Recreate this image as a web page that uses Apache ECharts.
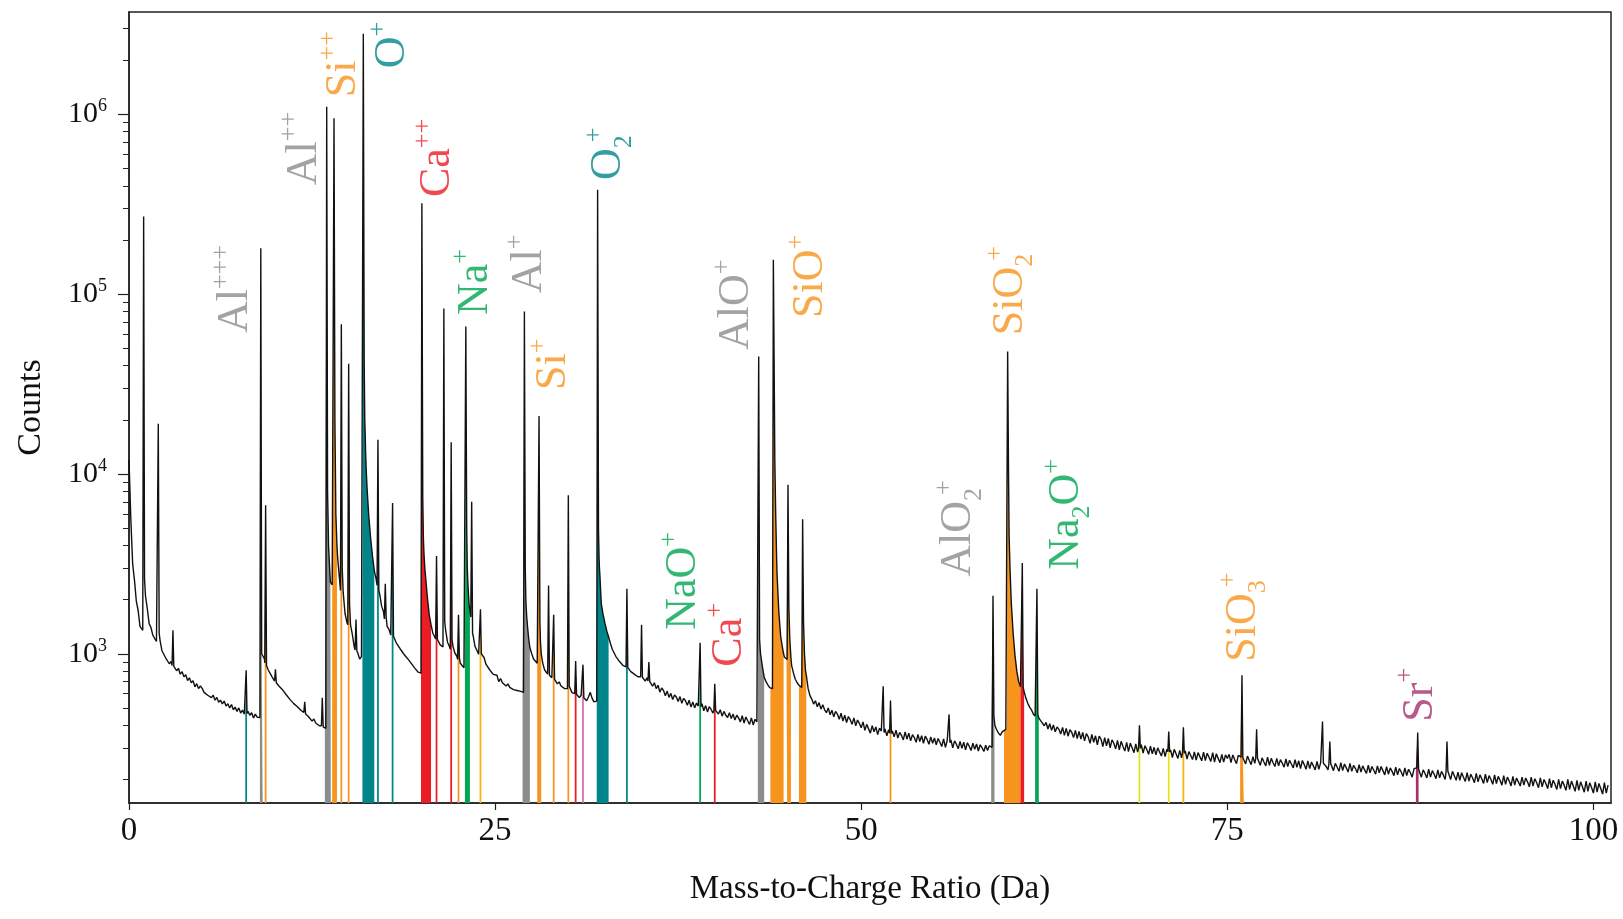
<!DOCTYPE html>
<html>
<head>
<meta charset="utf-8">
<title>Mass spectrum</title>
<script src="https://cdn.jsdelivr.net/npm/echarts@6/dist/echarts.min.js"></script>
<style>
  html, body { margin: 0; padding: 0; background: #fff; }
  #chart { width: 1623px; height: 919px; }
</style>
</head>
<body>
<div id="chart"></div>
<script>
// background counts, one value every 0.125 Da from 0 to 101 Da (40 values per 5 Da)
const BG_STEP = 0.125;
const bgCounts = [
  12000, 5600, 3150, 2560, 1960, 1740, 1420, 1400, 1300, 2100, 1780, 1470, 1400, 1270, 1260, 1170, 1150, 1180, 1040, 1050,
  950, 965, 880, 905, 860, 860, 805, 830, 770, 795, 745, 765, 710, 735, 690, 708, 655, 682, 640, 662,
  642, 610, 625, 588, 602, 570, 588, 552, 572, 538, 552, 526, 546, 512, 528, 500, 522, 488, 505, 478,
  500, 468, 486, 462, 470, 478, 455, 470, 440, 462, 444, 452, 440, 980, 935, 850, 815, 795, 748, 742,
  700, 705, 660, 675, 628, 636, 590, 598, 556, 565, 528, 540, 508, 515, 484, 492, 470, 470, 448, 452,
  422, 434, 412, 418, 398, 406, 395, 390, 390, 4000, 2500, 2420, 2400, 6000, 3400, 2600, 2300, 2200, 1680, 1500,
  1400, 1450, 1280, 1100, 1050, 1010, 935, 965, 950, 17000, 8500, 5800, 4400, 3500, 2900, 2600, 2400, 2130, 1840, 1720,
  1550, 1420, 1370, 1270, 1250, 1240, 1150, 1140, 1070, 1060, 1000, 1005, 945, 950, 890, 900, 835, 845, 790, 800,
  760, 3900, 2700, 2050, 1650, 1450, 1300, 1280, 1200, 1190, 1120, 1130, 1080, 1350, 1160, 1100, 1050, 1100, 1010, 975,
  920, 885, 875, 835, 830, 2650, 1800, 1600, 1260, 1100, 1075, 995, 980, 975, 950, 875, 862, 815, 812, 768,
  752, 760, 700, 728, 690, 700, 662, 680, 650, 664, 632, 648, 625, 632, 618, 612, 610, 1800, 1320, 1080,
  1000, 935, 922, 885, 880, 1080, 890, 815, 805, 770, 742, 735, 730, 722, 680, 698, 662, 672, 640, 655,
  640, 645, 608, 622, 598, 602, 570, 588, 572, 578, 548, 575, 610, 565, 540, 545, 545, 3000, 1900, 1650,
  1480, 1340, 1240, 1140, 1060, 1040, 965, 968, 905, 912, 858, 868, 845, 845, 798, 812, 770, 785, 745, 760,
  740, 752, 705, 735, 700, 712, 660, 690, 640, 668, 612, 645, 625, 585, 620, 572, 602, 556, 590, 575,
  542, 578, 530, 565, 548, 518, 552, 505, 540, 500, 532, 512, 510, 528, 482, 515, 475, 508, 490, 468,
  485, 492, 462, 488, 450, 478, 455, 442, 470, 436, 462, 428, 455, 440, 418, 452, 412, 445, 424, 405,
  440, 402, 432, 418, 420, 1000, 850, 740, 700, 672, 648, 642, 640, 9000, 2800, 1700, 1250, 1080, 960, 940,
  900, 1200, 860, 780, 722, 690, 668, 655, 640, 1000, 760, 640, 585, 560, 525, 548, 508, 535, 492, 520,
  488, 470, 500, 458, 485, 446, 478, 462, 432, 468, 422, 455, 415, 448, 430, 405, 440, 398, 428, 410,
  388, 418, 375, 405, 395, 362, 398, 368, 392, 355, 386, 372, 365, 382, 350, 378, 360, 372, 345, 376,
  340, 365, 352, 332, 368, 335, 362, 328, 355, 342, 322, 356, 325, 350, 318, 348, 334, 314, 345, 318,
  340, 312, 338, 322, 305, 336, 302, 330, 320, 332, 300, 328, 314, 296, 326, 298, 322, 292, 320, 306,
  290, 318, 294, 315, 288, 312, 300, 286, 310, 290, 308, 303, 300, 400, 378, 362, 352, 368, 375, 380,
  380, 3800, 1900, 1300, 980, 800, 700, 655, 640, 615, 565, 530, 505, 488, 462, 450, 445, 440, 425, 418,
  398, 415, 382, 408, 375, 402, 368, 392, 380, 358, 390, 352, 385, 348, 378, 366, 342, 375, 338, 370,
  335, 365, 328, 360, 345, 318, 356, 322, 350, 312, 348, 335, 305, 342, 308, 338, 300, 332, 318, 296,
  330, 292, 326, 305, 288, 322, 286, 318, 300, 282, 315, 284, 300, 312, 280, 308, 294, 276, 306, 278,
  302, 274, 300, 284, 270, 298, 268, 295, 285, 292, 265, 294, 278, 262, 290, 264, 280, 288, 260, 286,
  272, 258, 285, 256, 282, 268, 254, 284, 255, 280, 266, 252, 282, 250, 278, 262, 248, 276, 250, 274,
  262, 276, 248, 274, 258, 245, 272, 268, 262, 262, 244, 270, 255, 242, 268, 246, 260, 266, 240, 264,
  250, 238, 266, 240, 262, 248, 236, 262, 238, 258, 246, 234, 260, 236, 256, 244, 232, 258, 234, 254,
  230, 255, 242, 228, 254, 230, 250, 238, 226, 252, 228, 248, 240, 250, 236, 226, 240, 248, 224, 246,
  234, 222, 248, 224, 244, 232, 220, 246, 222, 240, 230, 218, 242, 220, 238, 226, 216, 240, 218, 236,
  225, 214, 238, 218, 236, 224, 212, 236, 214, 232, 222, 210, 234, 212, 230, 220, 208, 232, 210, 228,
  218, 206, 230, 232, 228, 228, 206, 226, 216, 204, 228, 206, 224, 214, 202, 226, 204, 222, 212, 200,
  222, 220, 200, 222, 210, 198, 220, 198, 218, 206, 195, 218, 196, 214, 204, 192, 216, 194, 212, 202,
  190, 214, 192, 210, 200, 188, 212, 190, 208, 198, 186, 210, 188, 206, 196, 184, 208, 186, 204, 194,
  184, 206, 186, 204, 194, 182, 206, 184, 202, 192, 180, 204, 182, 200, 190, 178, 202, 180, 198, 188,
  176, 200, 178, 196, 186, 174, 200, 176, 196, 184, 172, 198, 174, 194, 182, 170, 196, 172, 192, 180,
  168, 194, 170, 190, 178, 166, 192, 168, 186
];

// peaks: position, top, count just before and just after
const peakMass = [1, 2, 3, 8, 9, 9.33, 10, 12, 13.2, 13.5, 14, 14.5, 15, 15.5, 16, 17, 17.5, 18, 20, 21,
  21.5, 22, 22.5, 23, 23.4, 24, 27, 28, 28.65, 29, 30, 30.5, 31, 32, 34, 35, 35.5, 39, 40, 43,
  44, 45, 46, 51.5, 52, 56, 59, 60, 61, 62, 69, 71, 72, 76, 77, 81.5, 82, 88, 90];
const peakApex = [270000, 19000, 1350, 810, 180000, 6700, 820, 540, 570, 1100000, 950000, 68000, 41000, 1550, 2800000, 15500, 2450, 6900, 320000, 3500,
  83000, 15000, 1650, 66000, 7000, 1770, 80000, 21000, 2400, 1650, 7600, 910, 870, 380000, 2300, 1450, 900, 1150, 680, 45000,
  155000, 8700, 5600, 660, 550, 460, 2100, 48000, 3200, 2300, 400, 370, 390, 760, 380, 420, 325, 365, 325];
const peakLeft = [1350, 1180, 860, 468, 442, 890, 705, 472, 398, 385, 2400, 2250, 1450, 1050, 960, 2400, 1560, 1260, 780, 1210,
  1090, 1060, 930, 840, 1600, 985, 610, 880, 770, 730, 640, 600, 575, 545, 845, 745, 705, 512, 486, 420,
  640, 930, 650, 368, 362, 322, 302, 380, 640, 445, 300, 285, 281, 266, 262, 248, 246, 232, 222];
const peakRight = [2600, 1300, 850, 465, 1000, 860, 690, 462, 392, 8000, 20000, 3000, 1900, 1040, 42000, 2250, 1600, 1250, 7400, 1200,
  1500, 1200, 950, 5000, 1300, 1000, 3000, 1500, 760, 720, 660, 595, 570, 4900, 840, 740, 700, 508, 484, 1200,
  35000, 1800, 1500, 365, 360, 320, 450, 10000, 650, 460, 298, 284, 280, 264, 262, 246, 245, 228, 222];

// extra points on the decaying tails after the big peaks
const tailMass = [13.7, 13.78, 14.2, 16.1, 16.16, 16.2, 20.1, 20.16, 20.2, 23.1,
  23.16, 23.22, 23.28, 27.1, 27.16, 27.22, 27.3, 28.1, 28.15, 32.1,
  32.16, 32.2, 43.8, 44.1, 44.16, 44.22, 44.7, 44.9, 45.2, 46.2,
  59.1, 60.1, 60.16, 60.22];
const tailCounts = [3000, 2450, 4000, 20000, 13000, 10500, 4500, 3400, 3000, 3000,
  2300, 1900, 1750, 2000, 1600, 1400, 1200, 1150, 1000, 3400,
  2700, 2300, 645, 12000, 6000, 3500, 1000, 935, 950, 800,
  420, 4500, 3000, 2200];

// coloured (identified) ranges
const fillFrom = [7.94, 8.94, 9.27, 13.375, 13.875, 14.44, 14.94, 15.94, 16.94, 17.94,
  19.94, 20.94, 21.94, 22.44, 22.94, 23.94, 26.875, 27.875, 28.94, 29.94,
  30.44, 30.94, 31.94, 33.94, 38.94, 39.94, 42.94, 43.8, 44.9, 45.75,
  51.94, 58.875, 59.75, 60.875, 61.875, 68.94, 70.94, 71.94, 75.875, 87.875];
const fillTo = [8.06, 9.125, 9.39, 13.78, 14.2, 14.56, 15.06, 16.75, 17.06, 18.06,
  20.625, 21.06, 22.06, 22.56, 23.28, 24.06, 27.375, 28.15, 29.06, 30.06,
  30.56, 31.06, 32.75, 34.06, 39.06, 40.06, 43.375, 44.7, 45.2, 46.25,
  52.06, 59.1, 60.875, 61.125, 62.125, 69.06, 71.06, 72.06, 76.125, 88.06];
const fillKind = ['teal', 'gray', 'orange', 'gray', 'orange', 'orange', 'orange', 'teal', 'teal', 'teal',
  'red', 'red', 'red', 'orange', 'green', 'gold', 'gray', 'orange', 'orange', 'orange',
  'red', 'pink', 'teal', 'teal', 'green', 'red', 'gray', 'orange', 'orange', 'orange',
  'orange', 'gray', 'orange', 'red', 'green', 'yellow', 'yellow', 'gold', 'orange', 'magenta'];

// ion labels
const ionNames = ['Al+++', 'Al++', 'Si++', 'O+', 'Ca++', 'Na+', 'Al+', 'Si+', 'O2+', 'AlO+',
  'SiO+', 'SiO2+', 'NaO+', 'Ca+', 'AlO2+', 'Na2O+', 'SiO3+', 'Sr+'];
const labelMass = [7.30, 11.95, 14.61, 18.02, 21.09, 23.69, 27.37, 28.98, 32.76, 41.50,
  46.55, 60.20, 37.88, 41.02, 56.66, 64.03, 76.11, 88.19];
const labelCounts = [60700, 403000, 1243000, 1800000, 346000, 76400, 101000, 29300, 430000, 48900,
  73600, 59100, 1360, 848, 2680, 2930, 903, 419];
const labelKind = ['gray', 'gray', 'orange', 'teal', 'red', 'green', 'gray', 'orange', 'teal', 'gray',
  'orange', 'orange', 'green', 'red', 'gray', 'green', 'orange', 'magenta'];

const xTicks = [0, 25, 50, 75, 100];
const yMajorTicks = [1e3, 1e4, 1e5, 1e6];
const yMinorTicks = [200, 300, 400, 500, 600, 700, 800, 900,
  2000, 3000, 4000, 5000, 6000, 7000, 8000, 9000,
  20000, 30000, 40000, 50000, 60000, 70000, 80000, 90000,
  200000, 300000, 400000, 500000, 600000, 700000, 800000, 900000,
  2000000, 3000000];

const colors = {
  gray: '#8c8c8c', orange: '#f7941d', teal: '#00868a', red: '#ed1c24', green: '#00a651',
  yellow: '#e3e31c', gold: '#f5b50a', pink: '#d26fb4', magenta: '#a6306c'
};
const SERIF = 'Liberation Serif';
const PEAK_HALF = 0.06;

// build the trace
const trace = [];
bgCounts.forEach((c, i) => {
  const x = i * BG_STEP;
  if (!peakMass.some((m) => Math.abs(m - x) < 0.08)) trace.push([x, c]);
});
peakMass.forEach((m, i) => {
  trace.push([m - PEAK_HALF, peakLeft[i]], [m, peakApex[i]], [m + PEAK_HALF, peakRight[i]]);
});
tailMass.forEach((m, i) => trace.push([m, tailCounts[i]]));
trace.sort((a, b) => a[0] - b[0]);

function ionMarkup(name) {
  return name.replace(/([A-Za-z]+)|(\d)(?=\+)|(\d)|(\++)/g, (all, word, dPlus, d, plus) => {
    if (word) return '{m|' + word + '}';
    if (dPlus) return '{sx|' + dPlus + '}';
    if (d) return '{s|' + d + '}';
    return '{p|' + plus + '}';
  });
}

const chart = echarts.init(document.getElementById('chart'));

const fillSeries = fillFrom.map((from, i) => ({
  type: 'line',
  data: trace.filter((p) => p[0] >= from - 1e-9 && p[0] <= fillTo[i] + 1e-9),
  symbol: 'none',
  lineStyle: { width: 0 },
  areaStyle: { color: colors[fillKind[i]], opacity: 1, origin: 'start' },
  silent: true,
  z: 2
}));

const option = {
  animation: false,
  backgroundColor: '#fff',
  textStyle: { fontFamily: SERIF },
  grid: { left: 129, right: 12, top: 12, bottom: 116, show: true, borderColor: '#222', borderWidth: 1.5 },
  xAxis: {
    type: 'value',
    min: 0,
    max: 101.2,
    name: 'Mass-to-Charge Ratio (Da)',
    nameLocation: 'middle',
    nameGap: 70,
    nameTextStyle: { fontFamily: SERIF, fontSize: 33, color: '#111' },
    axisLine: { lineStyle: { color: '#222', width: 1.5 } },
    axisTick: { length: 7, customValues: xTicks, lineStyle: { color: '#222', width: 1.2 } },
    axisLabel: { customValues: xTicks, margin: 12, fontFamily: SERIF, fontSize: 33, color: '#111' },
    splitLine: { show: false }
  },
  yAxis: [
    {
      type: 'log',
      logBase: 10,
      min: 148,
      max: 3.7e6,
      name: 'Counts',
      nameLocation: 'middle',
      nameGap: 81,
      nameTextStyle: { fontFamily: SERIF, fontSize: 34, color: '#111' },
      axisLine: { show: true, lineStyle: { color: '#222', width: 1.5 } },
      axisTick: { length: 11, customValues: yMajorTicks, lineStyle: { color: '#222', width: 1.2 } },
      axisLabel: {
        customValues: yMajorTicks,
        margin: 22,
        formatter: (v) => '{b|10}{e|' + Math.round(Math.log10(v)) + '}',
        rich: {
          b: { fontFamily: SERIF, fontSize: 30, lineHeight: 34, color: '#111' },
          e: { fontFamily: SERIF, fontSize: 18, lineHeight: 18, verticalAlign: 'top', color: '#111' }
        }
      },
      splitLine: { show: false }
    },
    {
      type: 'log',
      logBase: 10,
      min: 148,
      max: 3.7e6,
      position: 'left',
      axisLine: { show: false },
      axisTick: { length: 6, customValues: yMinorTicks, lineStyle: { color: '#222', width: 1 } },
      axisLabel: { show: false },
      splitLine: { show: false }
    }
  ],
  series: [
    ...fillSeries,
    {
      type: 'line',
      data: trace,
      symbol: 'none',
      lineStyle: { color: '#111', width: 1.4 },
      silent: true,
      z: 5
    },
    {
      type: 'scatter',
      symbolSize: 0.1,
      itemStyle: { color: 'rgba(0,0,0,0)' },
      silent: true,
      z: 10,
      data: ionNames.map((n, i) => ({
        name: n,
        value: [labelMass[i], labelCounts[i]],
        label: { color: colors[labelKind[i]] }
      })),
      label: {
        show: true,
        position: 'inside',
        rotate: 90,
        align: 'left',
        verticalAlign: 'middle',
        fontFamily: SERIF,
        fontSize: 44,
        formatter: (p) => ionMarkup(p.name),
        rich: {
          m: { fontFamily: SERIF, fontSize: 44, lineHeight: 56 },
          p: { fontFamily: SERIF, fontSize: 26, lineHeight: 40, verticalAlign: 'top' },
          s: { fontFamily: SERIF, fontSize: 26, lineHeight: 30, verticalAlign: 'bottom' },
          sx: { fontFamily: SERIF, fontSize: 26, lineHeight: 30, verticalAlign: 'bottom', width: 6 }
        }
      }
    }
  ]
};

chart.setOption(option);
</script>
</body>
</html>
